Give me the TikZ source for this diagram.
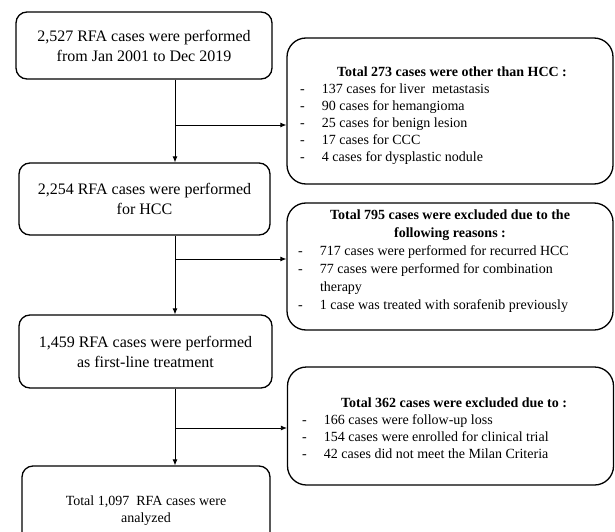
\documentclass[tikz,border=0pt]{standalone}
\usepackage{fontspec}
\setmainfont{Liberation Serif}
\usetikzlibrary{arrows.meta}
\newcommand{\ditem}[1]{\par\noindent\makebox[22pt][l]{-}#1}
\begin{document}
\begin{tikzpicture}[x=1pt,y=-1pt,
  lbox/.style={draw, line width=1.3pt, rounded corners=11pt, align=center, inner sep=0pt,
    font=\fontsize{16}{20}\selectfont},
  rbox/.style={draw, line width=1.3pt, rounded corners=19pt, inner sep=0pt,
    minimum width=326pt},
  rtext/.style={anchor=base, inner sep=0pt},
  arr/.style={line width=0.8pt, -{Latex[length=6pt,width=5pt]}}]
\useasboundingbox (0,0) rectangle (615,532);
\clip (0,0) rectangle (615,532);
% left boxes
\node[lbox, minimum width=256pt, minimum height=67pt] (n1) at (144,45.5)
  {2,527 RFA cases were performed\\from Jan 2001 to Dec 2019};
\node[lbox, minimum width=251pt, minimum height=72pt] (n2) at (144.5,199)
  {2,254 RFA cases were performed\\for HCC};
\node[lbox, minimum width=253pt, minimum height=73pt] (n3) at (145.5,351.5)
  {1,459 RFA cases were performed\\as first-line treatment};
\node[lbox, minimum width=248pt, minimum height=90pt, font=\fontsize{14}{17}\selectfont] (n4) at (146,511)
  {Total 1,097~ RFA cases were\\analyzed};
% right boxes
\node[rbox, minimum height=146pt] (r1) at (450,111) {};
\node[rbox, minimum height=127pt] (r2) at (450,266.5) {};
\node[rbox, minimum height=118pt] (r3) at (450.5,426) {};
\node[rtext] (t1) at (452,76.5) {\begin{minipage}[t]{304pt}\fontsize{14}{17}\selectfont
  {\centering\bfseries Total 273 cases were other than HCC :\par}
  \ditem{137 cases for liver~ metastasis}
  \ditem{90 cases for hemangioma}
  \ditem{25 cases for benign lesion}
  \ditem{17 cases for CCC}
  \ditem{4 cases for dysplastic nodule}
\end{minipage}};
\node[rtext] (t2) at (450,219.5) {\begin{minipage}[t]{304pt}\fontsize{14}{18}\selectfont
  {\centering\bfseries Total 795 cases were excluded due to the\\following reasons :\par}
  \ditem{717 cases were performed for recurred HCC}
  \ditem{77 cases were performed for combination}
  \par\noindent\hspace*{22pt}therapy
  \ditem{1 case was treated with sorafenib previously}
\end{minipage}};
\node[rtext] (t3) at (454,407.5) {\begin{minipage}[t]{304pt}\fontsize{14}{17}\selectfont
  {\centering\bfseries Total 362 cases were excluded due to :\par}
  \ditem{166 cases were follow-up loss}
  \ditem{154 cases were enrolled for clinical trial}
  \ditem{42 cases did not meet the Milan Criteria}
\end{minipage}};
% connectors
\coordinate (b1) at (175,125);
\coordinate (b2) at (175,259);
\coordinate (b3) at (175,428);
\draw[arr] (n1.south -| b1) -- (n2.north -| b1);
\draw[arr] (b1) -- (b1 -| r1.west);
\draw[arr] (n2.south -| b2) -- (n3.north -| b2);
\draw[arr] (b2) -- (b2 -| r2.west);
\draw[arr] (n3.south -| b3) -- (n4.north -| b3);
\draw[arr] (b3) -- (b3 -| r3.west);
\end{tikzpicture}
\end{document}
